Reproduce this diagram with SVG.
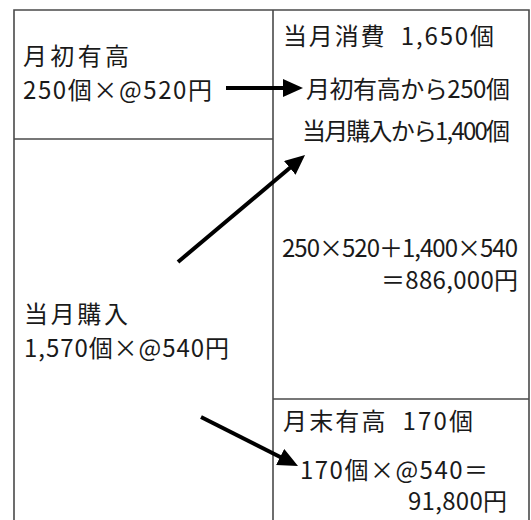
<svg xmlns="http://www.w3.org/2000/svg" width="531" height="520" viewBox="0 0 531 520">
  <defs>
    <style>
      .frame { fill: none; stroke: #4a4a4a; stroke-width: 1.6; }
      .t { font-family: "Noto Sans CJK JP", "Noto Sans", sans-serif; font-size: 24px; fill: #1a1a1a; }
      .arrow { stroke: #000; stroke-width: 4; fill: none; marker-end: url(#head); }
    </style>
    <marker id="head" markerUnits="userSpaceOnUse" markerWidth="22" markerHeight="20" refX="10" refY="9" orient="auto">
      <path d="M0,0 L20,9 L0,18 z" fill="#000"/>
    </marker>
  </defs>
  <rect width="531" height="520" fill="#fff"/>

  <g id="frame">
    <path class="frame" d="M14,525 L14,10 L529,10 L529,525"/>
    <line class="frame" x1="273" y1="10" x2="273" y2="525"/>
    <line class="frame" x1="14" y1="139" x2="273" y2="139"/>
    <line class="frame" x1="273" y1="399" x2="529" y2="399"/>
  </g>

  <g id="opening">
    <text class="t" x="23" y="65" textLength="106" lengthAdjust="spacing">月初有高</text>
    <text class="t" x="23" y="99" textLength="189" lengthAdjust="spacing">250個×@520円</text>
  </g>

  <g id="purchase">
    <text class="t" x="24" y="323" textLength="104" lengthAdjust="spacing">当月購入</text>
    <text class="t" x="24" y="357" textLength="205" lengthAdjust="spacing">1,570個×@540円</text>
  </g>

  <g id="consumption">
    <text class="t" x="283" y="45" textLength="211" lengthAdjust="spacing" xml:space="preserve">当月消費  1,650個</text>
    <text class="t" x="306" y="98" textLength="204" lengthAdjust="spacing">月初有高から250個</text>
    <text class="t" x="302" y="140" textLength="208" lengthAdjust="spacing">当月購入から1,400個</text>
    <text class="t" x="282" y="257" textLength="236" lengthAdjust="spacing">250×520＋1,400×540</text>
    <text class="t" x="381" y="289" textLength="137" lengthAdjust="spacing">＝886,000円</text>
  </g>

  <g id="closing">
    <text class="t" x="283" y="430" textLength="190" lengthAdjust="spacing" xml:space="preserve">月末有高  170個</text>
    <text class="t" x="300" y="479" textLength="188" lengthAdjust="spacing">170個×@540＝</text>
    <text class="t" x="408" y="510" textLength="99" lengthAdjust="spacing">91,800円</text>
  </g>

  <g id="connectors">
    <line class="arrow" x1="226" y1="88" x2="293" y2="88"/>
    <line class="arrow" x1="178" y1="262" x2="297.4" y2="161.5"/>
    <line class="arrow" x1="201" y1="417" x2="289.1" y2="461.5"/>
  </g>
</svg>
